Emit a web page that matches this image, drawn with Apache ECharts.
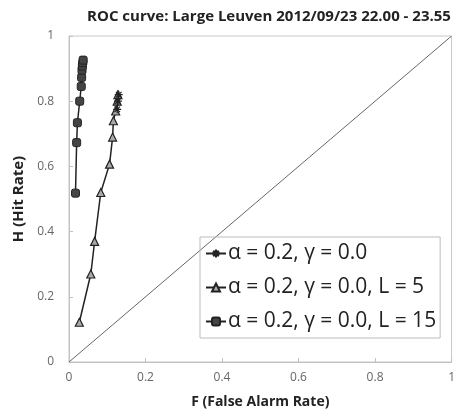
<!DOCTYPE html>
<html>
<head>
<meta charset="utf-8">
<script src="https://cdn.jsdelivr.net/npm/echarts@6/dist/echarts.min.js"></script>
<style>
  html, body { margin: 0; padding: 0; background: #fff; }
  #chart { width: 458px; height: 416px; }
</style>
</head>
<body>
<div id="chart"></div>
<script>
// 数据 (F = false alarm rate, H = hit rate)
var seriesNames = ['α = 0.2, γ = 0.0', 'α = 0.2, γ = 0.0, L = 5', 'α = 0.2, γ = 0.0, L = 15'];

var fBase = [0.126, 0.128, 0.130];
var hBase = [0.775, 0.800, 0.820];

var fL5 = [0.027, 0.057, 0.067, 0.083, 0.106, 0.114, 0.116, 0.122, 0.126, 0.128];
var hL5 = [0.122, 0.270, 0.370, 0.520, 0.607, 0.690, 0.740, 0.770, 0.800, 0.820];

var fL15 = [0.017, 0.020, 0.022, 0.028, 0.032, 0.033, 0.034, 0.035, 0.036, 0.037];
var hL15 = [0.518, 0.673, 0.734, 0.800, 0.845, 0.873, 0.895, 0.908, 0.918, 0.926];

var diagF = [0, 1];
var diagH = [0, 1];

var tickValues = [0, 0.2, 0.4, 0.6, 0.8, 1];

function pairs(xs, ys) {
    var out = [];
    for (var i = 0; i < xs.length; i++) {
        out.push([xs[i], ys[i]]);
    }
    return out;
}

var fontFamily = "'Open Sans', 'Liberation Sans', sans-serif";
var asterisk = 'path://M0,5L10,5M5,0L5,10M1.5,1.5L8.5,8.5M8.5,1.5L1.5,8.5';

var chart = echarts.init(document.getElementById('chart'));

var option = {
    animation: false,
    backgroundColor: '#fff',
    title: {
        text: 'ROC curve: Large Leuven 2012/09/23 22.00 - 23.55',
        left: 264,
        textAlign: 'center',
        top: 4,
        textStyle: { fontFamily: fontFamily, fontSize: 15, fontWeight: 'bold', color: '#222' }
    },
    grid: {
        left: 69, right: 3, top: 36, bottom: 54,
        show: true, borderColor: '#c8c8c8', borderWidth: 1
    },
    legend: {
        orient: 'vertical',
        left: 200, top: 237,
        padding: [6, 4, 6, 5],
        itemGap: 13,
        itemWidth: 20, itemHeight: 10,
        borderColor: '#bbb', borderWidth: 1,
        data: seriesNames,
        textStyle: { fontFamily: fontFamily, fontSize: 21, color: '#222', padding: [0, 0, 0, -3] }
    },
    xAxis: {
        type: 'value', min: 0, max: 1, interval: 0.2,
        name: 'F (False Alarm Rate)',
        nameLocation: 'middle', nameGap: 33,
        nameTextStyle: { fontFamily: fontFamily, fontSize: 14, fontWeight: 'bold', color: '#222' },
        axisLine: { lineStyle: { color: '#c0c0c0' } },
        axisTick: { show: true, inside: true, length: 4, lineStyle: { color: '#c0c0c0' } },
        splitLine: { show: false },
        axisLabel: {
            fontFamily: fontFamily, fontSize: 12, color: '#666', margin: 10,
            formatter: function (v) { return tickValues.indexOf(v) >= 0 ? String(v) : ''; }
        }
    },
    yAxis: {
        type: 'value', min: 0, max: 1, interval: 0.2,
        name: 'H (Hit Rate)',
        nameLocation: 'middle', nameGap: 41,
        nameTextStyle: { fontFamily: fontFamily, fontSize: 15, fontWeight: 'bold', color: '#222' },
        axisLine: { show: true, lineStyle: { color: '#c0c0c0' } },
        axisTick: { show: true, inside: true, length: 4, lineStyle: { color: '#c0c0c0' } },
        splitLine: { show: false },
        axisLabel: {
            fontFamily: fontFamily, fontSize: 12, color: '#666', margin: 15,
            formatter: function (v) { return tickValues.indexOf(v) >= 0 ? String(v) : ''; }
        }
    },
    series: [
        {
            name: 'diagonal',
            type: 'line',
            data: pairs(diagF, diagH),
            symbol: 'none',
            lineStyle: { color: '#666', width: 1 },
            silent: true,
            z: 1
        },
        {
            name: seriesNames[0],
            type: 'line',
            data: pairs(fBase, hBase),
            symbol: asterisk, symbolSize: 8,
            lineStyle: { color: '#222', width: 1.5 },
            itemStyle: { color: '#222', borderColor: '#222', borderWidth: 1.2 },
            z: 3
        },
        {
            name: seriesNames[1],
            type: 'line',
            data: pairs(fL5, hL5),
            symbol: 'triangle', symbolSize: 8,
            lineStyle: { color: '#222', width: 1.5 },
            itemStyle: { color: '#aaa', borderColor: '#222', borderWidth: 1.2 },
            z: 2
        },
        {
            name: seriesNames[2],
            type: 'line',
            data: pairs(fL15, hL15),
            symbol: 'roundRect', symbolSize: 8,
            lineStyle: { color: '#222', width: 1.5 },
            itemStyle: { color: '#444', borderColor: '#222', borderWidth: 1 },
            z: 2
        }
    ]
};

chart.setOption(option);
</script>
</body>
</html>
